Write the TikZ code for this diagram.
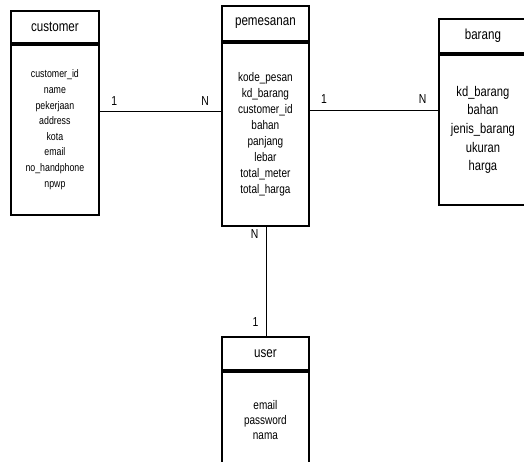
\documentclass[tikz,border=0pt]{standalone}
\usepackage{fontspec}
\setmainfont[FakeStretch=0.8]{Liberation Sans}
\usetikzlibrary{positioning}

\tikzset{
  entityhead/.style={draw, line width=1.8pt, inner sep=0pt, font=\fontsize{14.5}{16}\selectfont},
  entitybody/.style={draw, line width=1.8pt, inner sep=0pt, align=center, anchor=north},
  card/.style={font=\fontsize{13}{15}\selectfont, inner sep=1pt},
  relline/.style={line width=0.8pt},
}

\begin{document}
\begin{tikzpicture}[x=1pt, y=-1pt]
\useasboundingbox (0,0) rectangle (524,461);
\clip (0,0) rectangle (524,461);

% Entity customer
\node[entityhead, anchor=north west, minimum width=88pt, minimum height=32pt] (customer) at (10,10) {customer};
\node[entitybody, minimum width=88pt, minimum height=170pt, font=\fontsize{11}{15.6}\selectfont] (customer-attr) at (customer.south)
  {customer\_id\\name\\pekerjaan\\address\\kota\\email\\no\_handphone\\npwp};

% Entity pemesanan
\node[entityhead, anchor=north west, minimum width=87pt, minimum height=35pt] (pemesanan) at (221,5) {pemesanan};
\node[entitybody, minimum width=87pt, minimum height=183pt, font=\fontsize{12.5}{16}\selectfont] (pemesanan-attr) at (pemesanan.south)
  {kode\_pesan\\kd\_barang\\customer\_id\\bahan\\panjang\\lebar\\total\_meter\\total\_harga};

% Entity barang
\node[entityhead, anchor=north west, minimum width=98pt, minimum height=34pt] (barang) at (438,18) {\hspace*{-10pt}barang};
\node[entitybody, minimum width=98pt, minimum height=150pt, font=\fontsize{14}{18.7}\selectfont] (barang-attr) at (barang.south)
  {\hspace*{-10pt}\begin{tabular}{@{}c@{}}kd\_barang\\bahan\\jenis\_barang\\ukuran\\harga\end{tabular}};

% Entity user
\node[entityhead, anchor=north west, minimum width=87pt, minimum height=33pt] (user) at (221,336) {user};
\node[entitybody, minimum width=87pt, minimum height=96pt, font=\fontsize{12.5}{15}\selectfont] (user-attr) at (user.south)
  {email\\password\\nama};

% Relation levels
\coordinate (rel-a) at (0,111);
\coordinate (rel-b) at (0,110);

% Relations
\draw[relline] (customer-attr.east |- rel-a) -- node[card, pos=0.12, above=4pt] {1} node[card, pos=0.87, above=4pt] {N} (pemesanan-attr.west |- rel-a);
\draw[relline] (pemesanan-attr.east |- rel-b) -- node[card, pos=0.11, above=5pt] {1} node[card, pos=0.88, above=5pt] {N} (barang-attr.west |- rel-b);
\draw[relline] ([xshift=0.5pt]pemesanan-attr.south) -- node[card, pos=0.07, left=6pt] {N} node[card, pos=0.87, left=6pt] {1} ([xshift=0.5pt]user.north);

\end{tikzpicture}
\end{document}
